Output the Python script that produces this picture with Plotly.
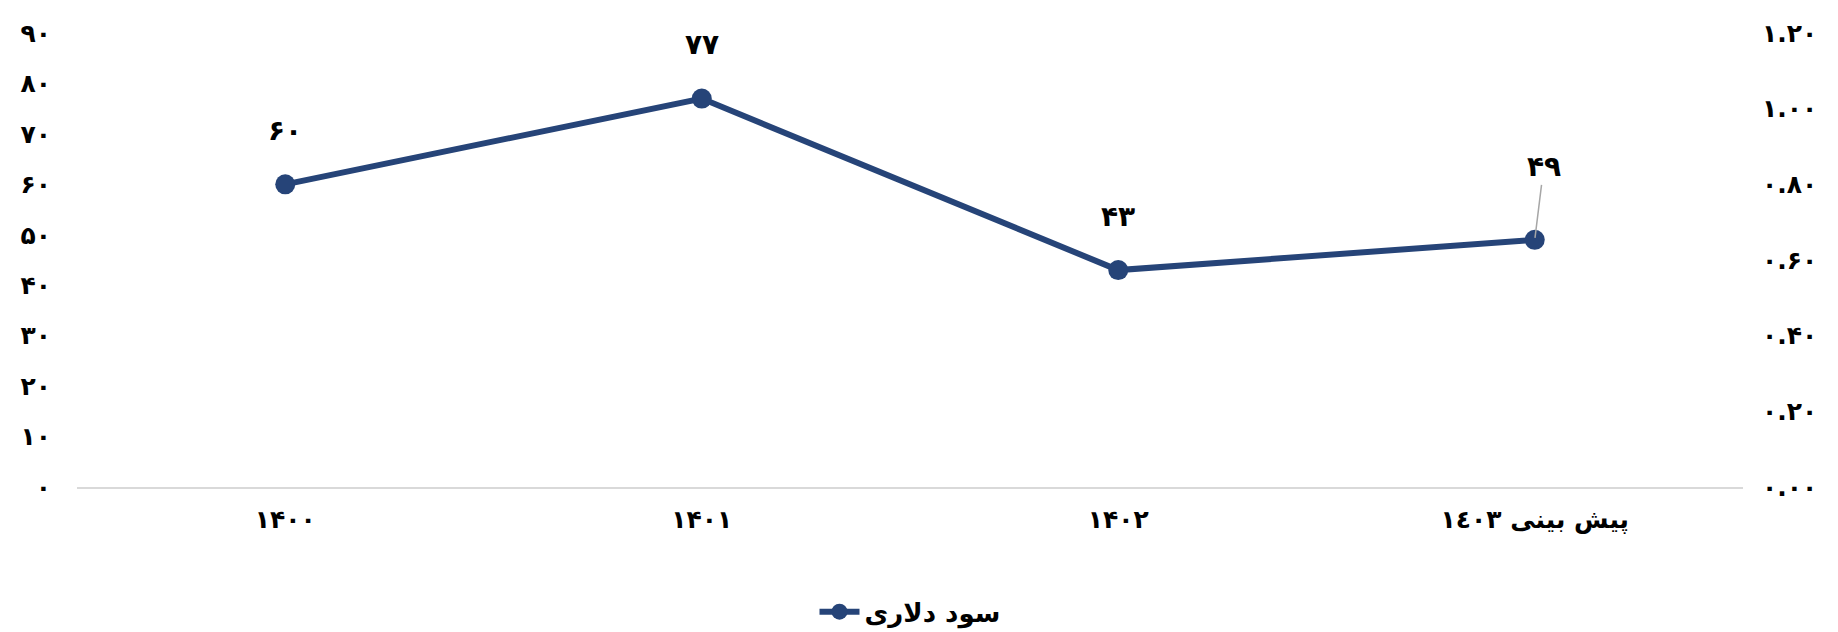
import plotly.graph_objects as go

categories = ["۱۴۰۰", "۱۴۰۱", "۱۴۰۲", "پیش بینی ۱٤۰۳"]
values = [60, 77, 43, 49]
value_labels = ["۶۰", "۷۷", "۴۳", "۴۹"]
series_name = "سود دلاری"

left_tickvals = [0, 10, 20, 30, 40, 50, 60, 70, 80, 90]
left_ticktext = ["۰", "۱۰", "۲۰", "۳۰", "۴۰", "۵۰", "۶۰", "۷۰", "۸۰", "۹۰"]
right_tickvals = [0.0, 0.2, 0.4, 0.6, 0.8, 1.0, 1.2]
right_ticktext = ["۰.۰۰", "۰.۲۰", "۰.۴۰", "۰.۶۰", "۰.۸۰", "۱.۰۰", "۱.۲۰"]

FONT = "DejaVu Sans"
COLOR = "#264478"

fig = go.Figure()
fig.add_trace(go.Scatter(
    x=categories, y=values, name=series_name, mode="lines+markers",
    line=dict(color=COLOR, width=6), marker=dict(color=COLOR, size=20),
    yaxis="y",
))
fig.add_trace(go.Scatter(
    x=categories, y=[None] * len(categories), yaxis="y2", showlegend=False,
    hoverinfo="skip", mode="lines",
))

# data labels
offsets = [(0, -54), (0, -54), (0, -54), (9, -73)]
for cat, val, lab, (ax, ay) in zip(categories, values, value_labels, offsets):
    leader = ay < -60
    fig.add_annotation(
        x=cat, y=val, xref="x", yref="y", text=lab,
        showarrow=True, arrowhead=0, arrowwidth=1.5,
        arrowcolor="#a6a6a6" if leader else "rgba(0,0,0,0)",
        ax=ax, ay=ay, standoff=2,
        font=dict(family=FONT, size=28, color="black", weight="bold"),
    )

fig.update_layout(
    width=1838, height=632,
    margin=dict(l=77, r=95, t=33, b=145, autoexpand=False),
    paper_bgcolor="white", plot_bgcolor="white",
    font=dict(family=FONT, size=24, color="black", weight="bold"),
    showlegend=True,
    legend=dict(orientation="h", x=0.5, xanchor="center",
                yref="container", y=0.032, yanchor="middle",
                itemwidth=40,
                font=dict(family=FONT, size=26, color="black", weight="bold")),
    xaxis=dict(showgrid=False, showline=True, linecolor="#d9d9d9", linewidth=2,
               ticks="", zeroline=False, ticklabelstandoff=9, automargin=False,
               range=[-0.5, len(categories) - 0.5],
               tickfont=dict(family=FONT, size=25, color="black", weight="bold")),
    yaxis=dict(range=[0, 90], tickvals=left_tickvals, ticktext=left_ticktext,
               showgrid=False, zeroline=False, showline=False, ticks="",
               ticklabelstandoff=25, automargin=False,
               tickfont=dict(family=FONT, size=25, color="black", weight="bold")),
    yaxis2=dict(range=[0, 1.2], tickvals=right_tickvals, ticktext=right_ticktext,
                overlaying="y", side="right", showgrid=False, zeroline=False,
                showline=False, ticks="", ticklabelstandoff=18, automargin=False,
                tickfont=dict(family=FONT, size=25, color="black", weight="bold")),
)

fig.write_html("out.html", config={"displayModeBar": False},
               post_script="document.body.style.margin='0';")
